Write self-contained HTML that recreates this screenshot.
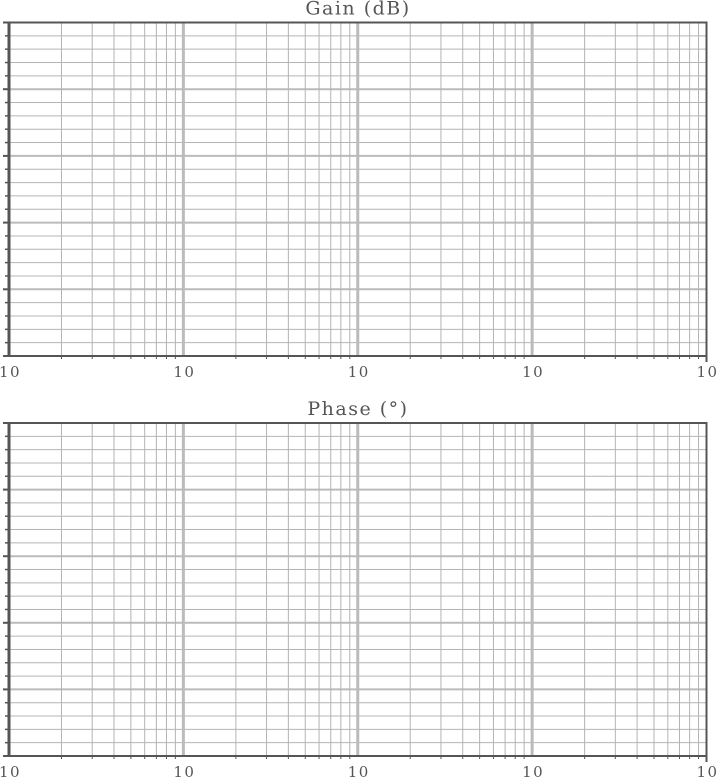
<!DOCTYPE html>
<html><head><meta charset="utf-8"><style>
html,body{margin:0;padding:0;background:#fff;}
svg{display:block;}
text{font-family:"DejaVu Serif","Liberation Serif",serif;fill:#555;}
</style></head><body>
<svg id="chart" width="717" height="778" viewBox="0 0 717 778" xmlns="http://www.w3.org/2000/svg"></svg>
<script>
const panelTitles = ["Gain (dB)", "Phase (°)"];
const decadeLabels = ["10", "10", "10", "10", "10"];
const yMajorCount = [5, 5];
const NS = "http://www.w3.org/2000/svg";
const svg = document.getElementById('chart');
const X0 = 9, X1 = 706.5;
const panels = [{top: 22.5, bottom: 356}, {top: 423, bottom: 756}];
function xScale(logv){ return X0 + (X1 - X0) * logv / (decadeLabels.length - 1); }
function mk(tag, attrs, parent){ const e = document.createElementNS(NS, tag); for (const k in attrs) e.setAttribute(k, attrs[k]); (parent||svg).appendChild(e); return e; }
panels.forEach((p, pi) => {
  const g = mk('g', {});
  
  
  const yScale = v => p.bottom - (p.bottom - p.top) * v / yMajorCount[pi];
  for (let i = 0; i <= yMajorCount[pi] * 5; i++) {
    const v = i / 5, y = yScale(v), major = i % 5 === 0;
    const l = mk('line', {x1: X0, x2: X1, y1: y, y2: y, stroke: major ? '#bbb' : '#b4b4b4', 'stroke-width': major ? 2 : 1}, g);
    
    
    const t = mk('line', {x1: major ? 3 : 5, x2: X0, y1: y, y2: y, stroke: '#555', 'stroke-width': major ? 2 : 1.5}, g);
    
    
  }
  for (let d = 0; d < decadeLabels.length - 1; d++) {
    for (let m = 2; m <= 9; m++) {
      const x = xScale(d + Math.log10(m));
      const l = mk('line', {x1: x, x2: x, y1: p.top, y2: p.bottom, stroke: '#b4b4b4', 'stroke-width': 1}, g);
      
      
      mk('line', {x1: x, x2: x, y1: p.bottom, y2: p.bottom + 3, stroke: '#555', 'stroke-width': 1}, g);
    }
    if (d > 0) {
      const x = xScale(d);
      const l = mk('line', {x1: x, x2: x, y1: p.top, y2: p.bottom, stroke: '#bbb', 'stroke-width': 3}, g);
      
      
    }
  }
  const f1 = mk('line', {x1: 3, x2: X1 + 1, y1: p.top, y2: p.top, stroke: '#555', 'stroke-width': 2}, g);
   
  const f2 = mk('line', {x1: 3, x2: X1 + 1, y1: p.bottom, y2: p.bottom, stroke: '#555', 'stroke-width': 2}, g);
   
  const f3 = mk('line', {x1: X0, x2: X0, y1: p.top - 1, y2: p.bottom + 1, stroke: '#555', 'stroke-width': 3}, g);
   
  const f4 = mk('line', {x1: X1, x2: X1, y1: p.top - 1, y2: p.bottom + 6, stroke: '#555', 'stroke-width': 2}, g);
   
  decadeLabels.forEach((lab, d) => {
    const t = mk('text', {x: xScale(d) + 1, y: p.bottom + 21, 'text-anchor': 'middle', 'font-size': 15, 'letter-spacing': 1.5}, g);
    t.textContent = lab;
    
    
  });
  const tt = mk('text', {x: 358, y: p.top - 8, 'text-anchor': 'middle', 'font-size': 19, 'letter-spacing': 1.5}, g);
  tt.textContent = panelTitles[pi];
  
  
});
</script>
</body></html>
